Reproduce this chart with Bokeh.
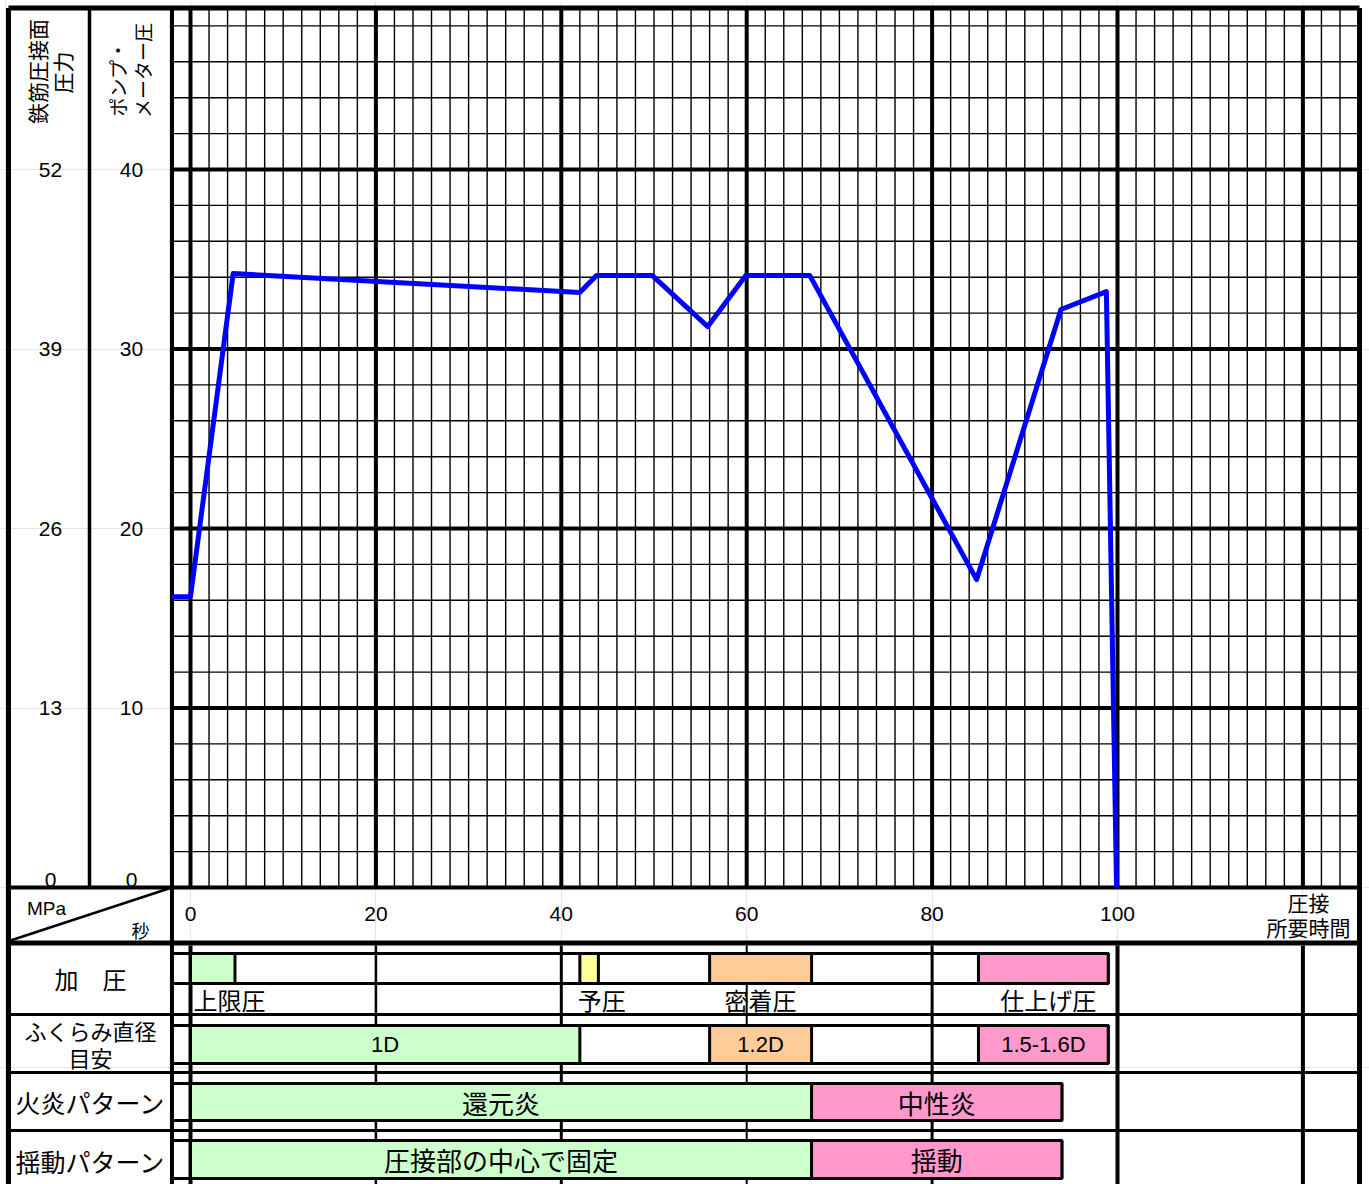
import numpy as np
from bokeh.plotting import figure
from bokeh.models import Range1d
from bokeh.core.properties import value
from bokeh.embed import file_html
from bokeh.resources import INLINE

# ---------------- data ----------------
# pump gauge pressure curve (seconds, pump meter pressure)
time_s = [-2, 0, 4.6, 42, 43.8, 49.8, 55.8, 59.9, 66.8, 84.8, 93.9, 98.8, 99.9]
pump_pressure = [16.2, 16.2, 34.2, 33.15, 34.1, 34.1, 31.25, 34.1, 34.1, 17.15, 32.2, 33.2, 0]

rebar_ticks = [0, 13, 26, 39, 52]      # 鉄筋圧接面圧力 (MPa)
pump_ticks = [0, 10, 20, 30, 40]       # ポンプ・メーター圧
time_ticks = [0, 20, 40, 60, 80, 100]  # 秒

# 加圧
press_start = [0, 42, 56, 85]
press_end = [4.8, 44, 67, 99]
press_color = ["#CCFFCC", "#FFFF99", "#FFCC99", "#FF99CC"]
press_names = ["上限圧", "予圧", "密着圧", "仕上げ圧"]
press_align = ["left", "left", "center", "center"]

# ふくらみ直径目安
bulge_start = [0, 56, 85]
bulge_end = [42, 67, 99]
bulge_color = ["#CCFFCC", "#FFCC99", "#FF99CC"]
bulge_names = ["1D", "1.2D", "1.5-1.6D"]

# 火炎パターン
flame_start = [0, 67]
flame_end = [67, 94]
flame_color = ["#CCFFCC", "#FF99CC"]
flame_names = ["還元炎", "中性炎"]

# 揺動パターン
swing_start = [0, 67]
swing_end = [67, 94]
swing_color = ["#CCFFCC", "#FF99CC"]
swing_names = ["圧接部の中心で固定", "揺動"]

# ---------------- layout helpers ----------------
X0, SX = 190.0, 9.27    # screen x of t=0, px per second
Y0, SY = 887.0, 17.95   # screen y of pump 0, px per unit


def tx(px):
    return (px - X0) / SX


def ty(py):
    return (Y0 - py) / SY


JP = "Noto Sans CJK JP"
LAT = "Liberation Sans"
W, H = 1369, 1184

p = figure(width=W, height=H,
           x_range=Range1d(tx(0), tx(W)), y_range=Range1d(ty(H), ty(0)),
           x_axis_location=None, y_axis_location=None, toolbar_location=None,
           output_backend="svg", min_border=0, title=None)
p.outline_line_color = None
p.background_fill_color = "white"
p.border_fill_color = "white"

LEFT = tx(8)
RIGHT = tx(1359)
TOP = ty(7.5)
BOTTOM = ty(1200)
T_MIN, T_MAX = -2, 126
P_TOP = 49

segs = {"x0": [], "y0": [], "x1": [], "y1": [], "w": []}


def seg(x0, y0, x1, y1, w):
    segs["x0"].append(x0); segs["y0"].append(y0)
    segs["x1"].append(x1); segs["y1"].append(y1)
    segs["w"].append(w)


# main grid: vertical lines every 2 s
for t in range(T_MIN, T_MAX, 2):
    w = 4 if (t % 20 == 0 or t == T_MIN) else 1.4
    seg(t, 0, t, TOP, w)
# horizontal lines every 2 units
for v in range(2, P_TOP, 2):
    w = 4 if v % 10 == 0 else 1.4
    seg(T_MIN, v, RIGHT, v, w)

# bottom of chart
seg(LEFT, 0, RIGHT, 0, 4)
# left columns
seg(tx(89), 0, tx(89), TOP, 3.5)
seg(T_MIN, BOTTOM, T_MIN, TOP, 4)
# diagonal in MPa/秒 cell
seg(tx(10), ty(940), T_MIN, 0, 2.5)
# thick line above table
seg(LEFT, ty(942.5), RIGHT, ty(942.5), 5)

# table vertical lines
for t, w in zip([0, 20, 40, 60, 80, 100, 120], [4, 2.5, 3, 2, 3, 4, 4]):
    seg(t, ty(945), t, BOTTOM, w)
# table row separators
for yy in [1014, 1072, 1130]:
    seg(LEFT, ty(yy), RIGHT, ty(yy), 3)

p.segment(x0="x0", y0="y0", x1="x1", y1="y1", line_width="w", line_color="black",
          source=segs)

# outer border
p.segment(x0=[LEFT, LEFT, RIGHT], y0=[TOP, BOTTOM, BOTTOM],
          x1=[RIGHT, LEFT, RIGHT], y1=[TOP, TOP, TOP], line_width=5, line_color="black")

# pressure curve
p.line(time_s, pump_pressure, line_color="#0000FF", line_width=5, line_join="round")

# ---------------- texts ----------------


def txt(x, y, s, size, align="center", baseline="middle", angle=0.0, font=JP, xoff=0):
    p.text(x=x, y=y, text=s, text_font=value(font), text_font_size=f"{size}px",
           text_align=align, text_baseline=baseline, angle=angle, text_color="black",
           x_offset=xoff)


# rotated axis titles
txt([tx(36)], [ty(71)], ["鉄筋圧接面"], 21, angle=np.pi / 2)
txt([tx(61)], [ty(72)], ["圧力"], 21, angle=np.pi / 2)
txt([tx(117)], [ty(78)], ["ポンプ・"], 19, angle=np.pi / 2)
txt([tx(142)], [ty(70)], ["メーター圧"], 19, angle=np.pi / 2)

# y tick labels
rebar_y = [v * pump_ticks[-1] / rebar_ticks[-1] for v in rebar_ticks]
txt([tx(50)] * 4, rebar_y[1:], [str(v) for v in rebar_ticks[1:]], 21, font=LAT)
txt([tx(131)] * 4, pump_ticks[1:], [str(v) for v in pump_ticks[1:]], 21, font=LAT)
txt([tx(50), tx(131)], [ty(879)] * 2, [str(rebar_ticks[0]), str(pump_ticks[0])], 21,
    font=LAT)

# x tick labels
txt(time_ticks, [ty(913)] * len(time_ticks), [str(v) for v in time_ticks], 21, font=LAT)
txt([tx(46)], [ty(908)], ["MPa"], 19, font=LAT)
txt([tx(140)], [ty(929)], ["秒"], 18)
txt([tx(1308)], [ty(901)], ["圧接"], 21)
txt([tx(1308)], [ty(926)], ["所要時間"], 21)

# table row titles
cx = tx(90)
txt([cx], [ty(978)], ["加　圧"], 24)
txt([cx], [ty(1029)], ["ふくらみ直径"], 22)
txt([cx], [ty(1056)], ["目安"], 22)
txt([cx], [ty(1101)], ["火炎パターン"], 25)
txt([cx], [ty(1160)], ["揺動パターン"], 25)

# ---------------- table bars ----------------
rows = [
    (press_start, press_end, press_color, None, 953, 983),
    (bulge_start, bulge_end, bulge_color, bulge_names, 1025, 1063),
    (flame_start, flame_end, flame_color, flame_names, 1083, 1120),
    (swing_start, swing_end, swing_color, swing_names, 1140, 1178),
]
for starts, ends, colors, names, top_px, bot_px in rows:
    top, bot = ty(top_px), ty(bot_px)
    # track outline
    p.quad(left=[T_MIN], right=[max(ends)], top=[top], bottom=[bot],
           fill_alpha=0, line_color="black", line_width=3)
    p.quad(left=starts, right=ends, top=[top] * len(starts), bottom=[bot] * len(starts),
           fill_color=colors, line_color="black", line_width=3)
    if names:
        mids = [(a + b) / 2 for a, b in zip(starts, ends)]
        if names is bulge_names:
            txt(mids, [(top + bot) / 2] * len(mids), names, 22, font=LAT)
        else:
            txt(mids, [(top + bot) / 2] * len(mids), names, 26)

# 加圧 labels below bars
for s, e, name, al in zip(press_start, press_end, press_names, press_align):
    xx = s if al == "left" else (s + e) / 2
    off = 0
    if al == "left":
        off = 3 if s == 0 else -2
    elif e == max(press_end):
        off = 5
    txt([xx], [ty(999)], [name], 24, align=al, xoff=off)

open("out.html", "w").write(file_html(p, INLINE))
